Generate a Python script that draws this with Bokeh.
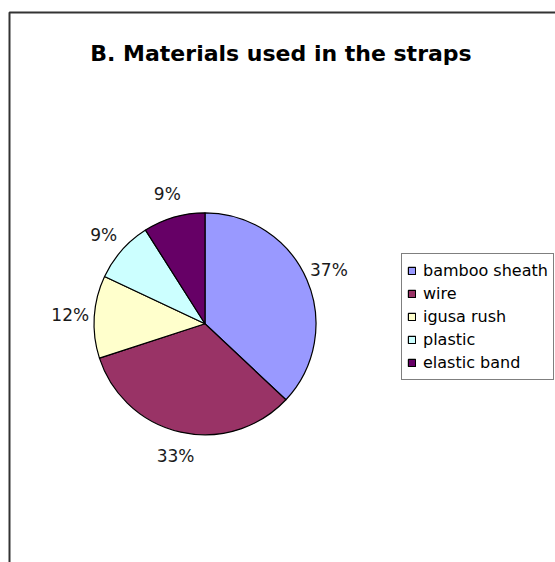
import math
import pandas as pd
from bokeh.plotting import figure
from bokeh.models import ColumnDataSource, Range1d, Label, BoxAnnotation
from bokeh.core.properties import value
from bokeh.embed import file_html
from bokeh.resources import INLINE

# ---- data ----
materials = ["bamboo sheath", "wire", "igusa rush", "plastic", "elastic band"]
percents = [37, 33, 12, 9, 9]
colors = ["#9999FF", "#993366", "#FFFFCC", "#CCFFFF", "#660066"]
title_text = "B. Materials used in the straps"

W, H = 555, 562
cx, cy = 204.5, H - 323.3
R = 111
LR = 135

df = pd.DataFrame({"material": materials, "pct": percents, "color": colors})
frac = df["pct"] / df["pct"].sum()
cum = frac.cumsum()
df["end"] = math.pi / 2 - 2 * math.pi * cum
df["start"] = df["end"] + 2 * math.pi * frac
mid = math.pi / 2 - 2 * math.pi * (cum - frac / 2)
df["lx"] = cx + LR * mid.apply(math.cos)
df["ly"] = cy + LR * mid.apply(math.sin)
df["label"] = [f"{v}%" for v in df["pct"]]
df["x"] = cx
df["y"] = cy
src = ColumnDataSource(df)

p = figure(width=W, height=H, x_range=Range1d(0, W), y_range=Range1d(0, H),
           x_axis_location=None, y_axis_location=None,
           output_backend="svg", toolbar_location=None, min_border=0)
p.grid.visible = False
p.outline_line_color = None
p.background_fill_color = "white"
p.border_fill_color = "white"

p.add_layout(BoxAnnotation(left=9, right=W + 50, top=H - 12, bottom=-50,
                           fill_alpha=0, line_color="#333333", line_alpha=1,
                           line_width=2))

p.wedge(x="x", y="y", radius=R, start_angle="start", end_angle="end",
        direction="clock", fill_color="color", line_color="black", line_width=1.2,
        legend_field="material", source=src)

p.text(x="lx", y="ly", text="label", source=src, text_align="center",
       text_baseline="middle", text_font=value("DejaVu Sans"),
       text_font_size="17px", text_color="#1a1a1a")

p.add_layout(Label(x=280.5, y=H - 53, text=title_text, text_align="center",
                   text_baseline="alphabetic", text_font="DejaVu Sans",
                   text_font_style="bold", text_font_size="22px",
                   text_color="black"))

lg = p.legend[0]
lg.location = (401, H - 380)
lg.label_text_font = "DejaVu Sans"
lg.label_text_font_size = "16px"
lg.label_text_color = "black"
lg.glyph_width = 9
lg.glyph_height = 9
lg.label_height = 23
lg.label_standoff = 7
lg.spacing = 0
lg.padding = 5
lg.margin = 0
lg.border_line_color = "black"
lg.border_line_width = 1
lg.background_fill_color = "white"
lg.background_fill_alpha = 1

open("out.html", "w").write(file_html(p, INLINE))
